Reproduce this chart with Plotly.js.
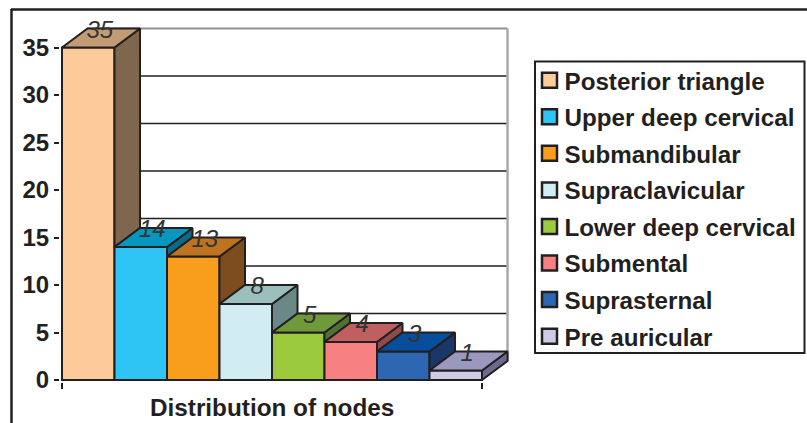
<!DOCTYPE html>
<html><head><meta charset="utf-8">
<script src="https://cdn.plot.ly/plotly-3.0.1.min.js"></script>
<style>html,body{margin:0;padding:0;background:#fff}</style>
</head><body><div id="chart" style="width:807px;height:423px"></div>
<script>
const categories = ['Posterior triangle','Upper deep cervical','Submandibular','Supraclavicular','Lower deep cervical','Submental','Suprasternal','Pre auricular'];
const values = [35,14,13,8,5,4,3,1];
const frontColors = ['#FDCB9A','#2EC4F4','#F99D1C','#D2ECF3','#9BCB3C','#F68082','#2D66B1','#CDCBE6'];
const topColors   = ['#C29B74','#0597BE','#BD7320','#9BBFBD','#6F9A3B','#BF5F60','#074E9C','#9A98BE'];
const sideColors  = ['#7F664E','#0B6A86','#7E4D1F','#6B8889','#527234','#8E4A4D','#1A3768','#6C6B8C'];
const yTicks = [0,5,10,15,20,25,30,35];
const axisTitle = 'Distribution of nodes';
const ink = '#231f20';
const depthX = 0.486, depthY = 2;
const yMax = 35, xMax = categories.length;
const L = 60, W = 449, T = 26, H = 356;
const xUnit = 52.5, yUnit = 9.5;
const xRange = [-2/xUnit, (W-2)/xUnit], yRange = [-2/yUnit, (H-2)/yUnit];

const traces = [];
categories.forEach((name,i)=>{
  traces.push({type:'bar',name,x:[i+0.5],y:[values[i]],width:[1],legendgroup:name,
    marker:{color:frontColors[i],line:{color:ink,width:2}},hoverinfo:'x+y'});
});
const poly=(xs,ys,color)=>({type:'scatter',mode:'lines',x:xs.concat(xs[0]),y:ys.concat(ys[0]),fill:'toself',fillcolor:color,
  line:{color:ink,width:2},showlegend:false,hoverinfo:'skip'});
categories.forEach((name,i)=>{
  const v=values[i], next=i+1<values.length?values[i+1]:0;
  traces.push(poly([i+1,i+1,i+1+depthX,i+1+depthX],[next,v,v+depthY,next+depthY],sideColors[i]));
  traces.push(poly([i,i+1,i+1+depthX,i+depthX],[v,v,v+depthY,v+depthY],topColors[i]));
});
traces.push({type:'scatter',mode:'text',x:categories.map((_,i)=>i+0.72),y:values.map(v=>v+1.65),text:values.map(String),
  textposition:'middle center',textfont:{family:'Liberation Sans',size:24,style:'italic',color:'#333'},showlegend:false,hoverinfo:'skip',cliponaxis:false});

const sx=p=>(p-L)/W, sy=p=>(T+H-p)/H; // page pixels to paper, for frame and legend box
const shapes=[];
yTicks.slice(1,-1).forEach(g=>{
  shapes.push({type:'line',layer:'below',x0:depthX,x1:xMax+depthX,y0:g+depthY,y1:g+depthY,line:{color:ink,width:1.5}});
});
shapes.push({type:'line',layer:'below',x0:depthX,x1:xMax+depthX,y0:yMax+depthY,y1:yMax+depthY,line:{color:'#8f8f8f',width:2}});
shapes.push({type:'line',layer:'below',x0:xMax+depthX,x1:xMax+depthX,y0:depthY,y1:yMax+depthY,line:{color:'#a9a9b2',width:2.5}});
shapes.push({type:'rect',xref:'paper',yref:'paper',layer:'below',x0:sx(535),x1:sx(804.5),y0:sy(353),y1:sy(61.5),line:{color:ink,width:2},fillcolor:'#fff'});
shapes.push({type:'line',xref:'paper',yref:'paper',layer:'below',x0:sx(11),x1:sx(807),y0:sy(9.5),y1:sy(9.5),line:{color:ink,width:2.5}});
shapes.push({type:'line',xref:'paper',yref:'paper',layer:'below',x0:sx(11.5),x1:sx(11.5),y0:sy(9),y1:sy(423),line:{color:ink,width:2.5}});

const layout={width:807,height:423,paper_bgcolor:'#fff',plot_bgcolor:'rgba(0,0,0,0)',barmode:'overlay',
  margin:{l:L,r:807-L-W,t:T,b:423-T-H,pad:0,autoexpand:false},shapes,
  font:{family:'Liberation Sans',color:ink},
  xaxis:{range:xRange,tickvals:[0,xMax],showticklabels:false,ticks:'outside',ticklen:6,tickwidth:2,tickcolor:ink,showline:false,showgrid:false,zeroline:false},
  yaxis:{range:yRange,tickvals:yTicks,ticks:'outside',ticklen:5,tickwidth:2,tickcolor:ink,showline:false,showgrid:false,zeroline:false,
    tickfont:{family:'Liberation Sans',size:24,weight:700,color:ink}},
  annotations:[{text:axisTitle,xref:'x',yref:'paper',x:xMax/2,y:sy(407),showarrow:false,xanchor:'center',yanchor:'middle',
    font:{family:'Liberation Sans',size:24.3,weight:700,color:ink}}],
  legend:{x:sx(524.5),y:sy(58),xanchor:'left',yanchor:'top',bgcolor:'rgba(0,0,0,0)',borderwidth:0,traceorder:'grouped',tracegroupgap:2.1,
    font:{family:'Liberation Sans',size:24.2,weight:700,color:ink}},
  showlegend:true};
Plotly.newPlot('chart',traces,layout,{displayModeBar:false,staticPlot:true}).then(()=>{
  document.querySelectorAll('.legend .legendpoints path').forEach(p=>{
    p.setAttribute('transform','translate(25,0) scale(1.25)');
  });
});
</script></body></html>
